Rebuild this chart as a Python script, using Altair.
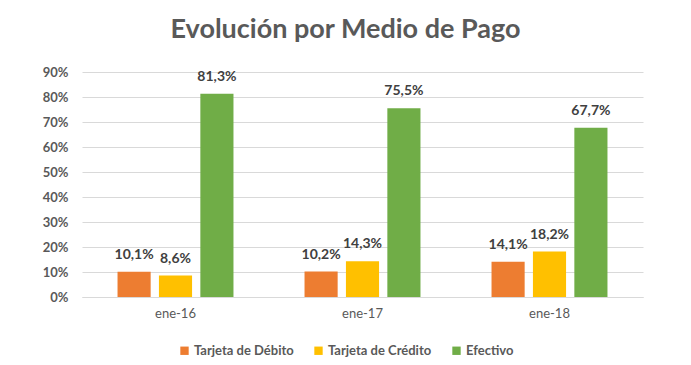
import altair as alt
import pandas as pd

periods = ["ene-16", "ene-17", "ene-18"]
series = ["Tarjeta de Débito", "Tarjeta de Crédito", "Efectivo"]
debito = [10.1, 10.2, 14.1]
credito = [8.6, 14.3, 18.2]
efectivo = [81.3, 75.5, 67.7]
colors = ["#ED7D31", "#FFC000", "#70AD47"]

rows = []
for i, p in enumerate(periods):
    for s, vals in zip(series, [debito, credito, efectivo]):
        rows.append({"periodo": p, "serie": s, "valor": vals[i]})
df = pd.DataFrame(rows)

FONT = "Lato"

base = alt.Chart(df).encode(
    x=alt.X("periodo:N", sort=periods,
            scale=alt.Scale(paddingInner=0.38, paddingOuter=0.19),
            axis=alt.Axis(title=None, labelAngle=0, labelFontSize=13, labelColor="#595959",
                          labelFont=FONT, labelPadding=10, ticks=False,
                          domainColor="#D9D9D9", grid=False)),
    xOffset=alt.XOffset("serie:N", sort=series,
                        scale=alt.Scale(paddingInner=0.2, paddingOuter=0)),
    y=alt.Y("valor:Q", scale=alt.Scale(domain=[0, 90], nice=False),
            axis=alt.Axis(title=None, values=list(range(0, 100, 10)),
                          labelExpr="datum.value + '%'", labelFontSize=13,
                          labelFontWeight="bold", labelColor="#595959", labelFont=FONT,
                          labelOverlap=False, ticks=False, domain=False,
                          gridColor="#D9D9D9", labelPadding=14)),
)

bars = base.mark_bar().encode(
    color=alt.Color("serie:N", sort=series,
                    scale=alt.Scale(domain=series, range=colors),
                    legend=alt.Legend(title=None, orient="none", direction="horizontal",
                                      legendX=96, legendY=272, symbolType="square",
                                      symbolSize=70, symbolStrokeWidth=0,
                                      labelFontSize=13, labelFontWeight="bold",
                                      labelColor="#595959", labelFont=FONT,
                                      columnPadding=18, labelOffset=3)),
)

labels = base.mark_text(dy=-10, fontSize=14, fontWeight="bold", color="#404040",
                        font=FONT, baseline="bottom").encode(
    text=alt.Text("lab:N"),
).transform_calculate(lab="replace(format(datum.valor, '.1f'), '.', ',') + '%'")

chart = (bars + labels).properties(
    width=561, height=225,
    title=alt.Title("Evolución por Medio de Pago", fontSize=27, font=FONT,
                    fontWeight="bold", color="#595959", offset=22, dx=-17),
    autosize=alt.AutoSizeParams(type="none"),
    padding={"left": 74, "top": 64, "right": 40, "bottom": 60},
).configure_view(stroke=None)

chart.save("out.html", embed_options={"renderer": "svg", "actions": False})
